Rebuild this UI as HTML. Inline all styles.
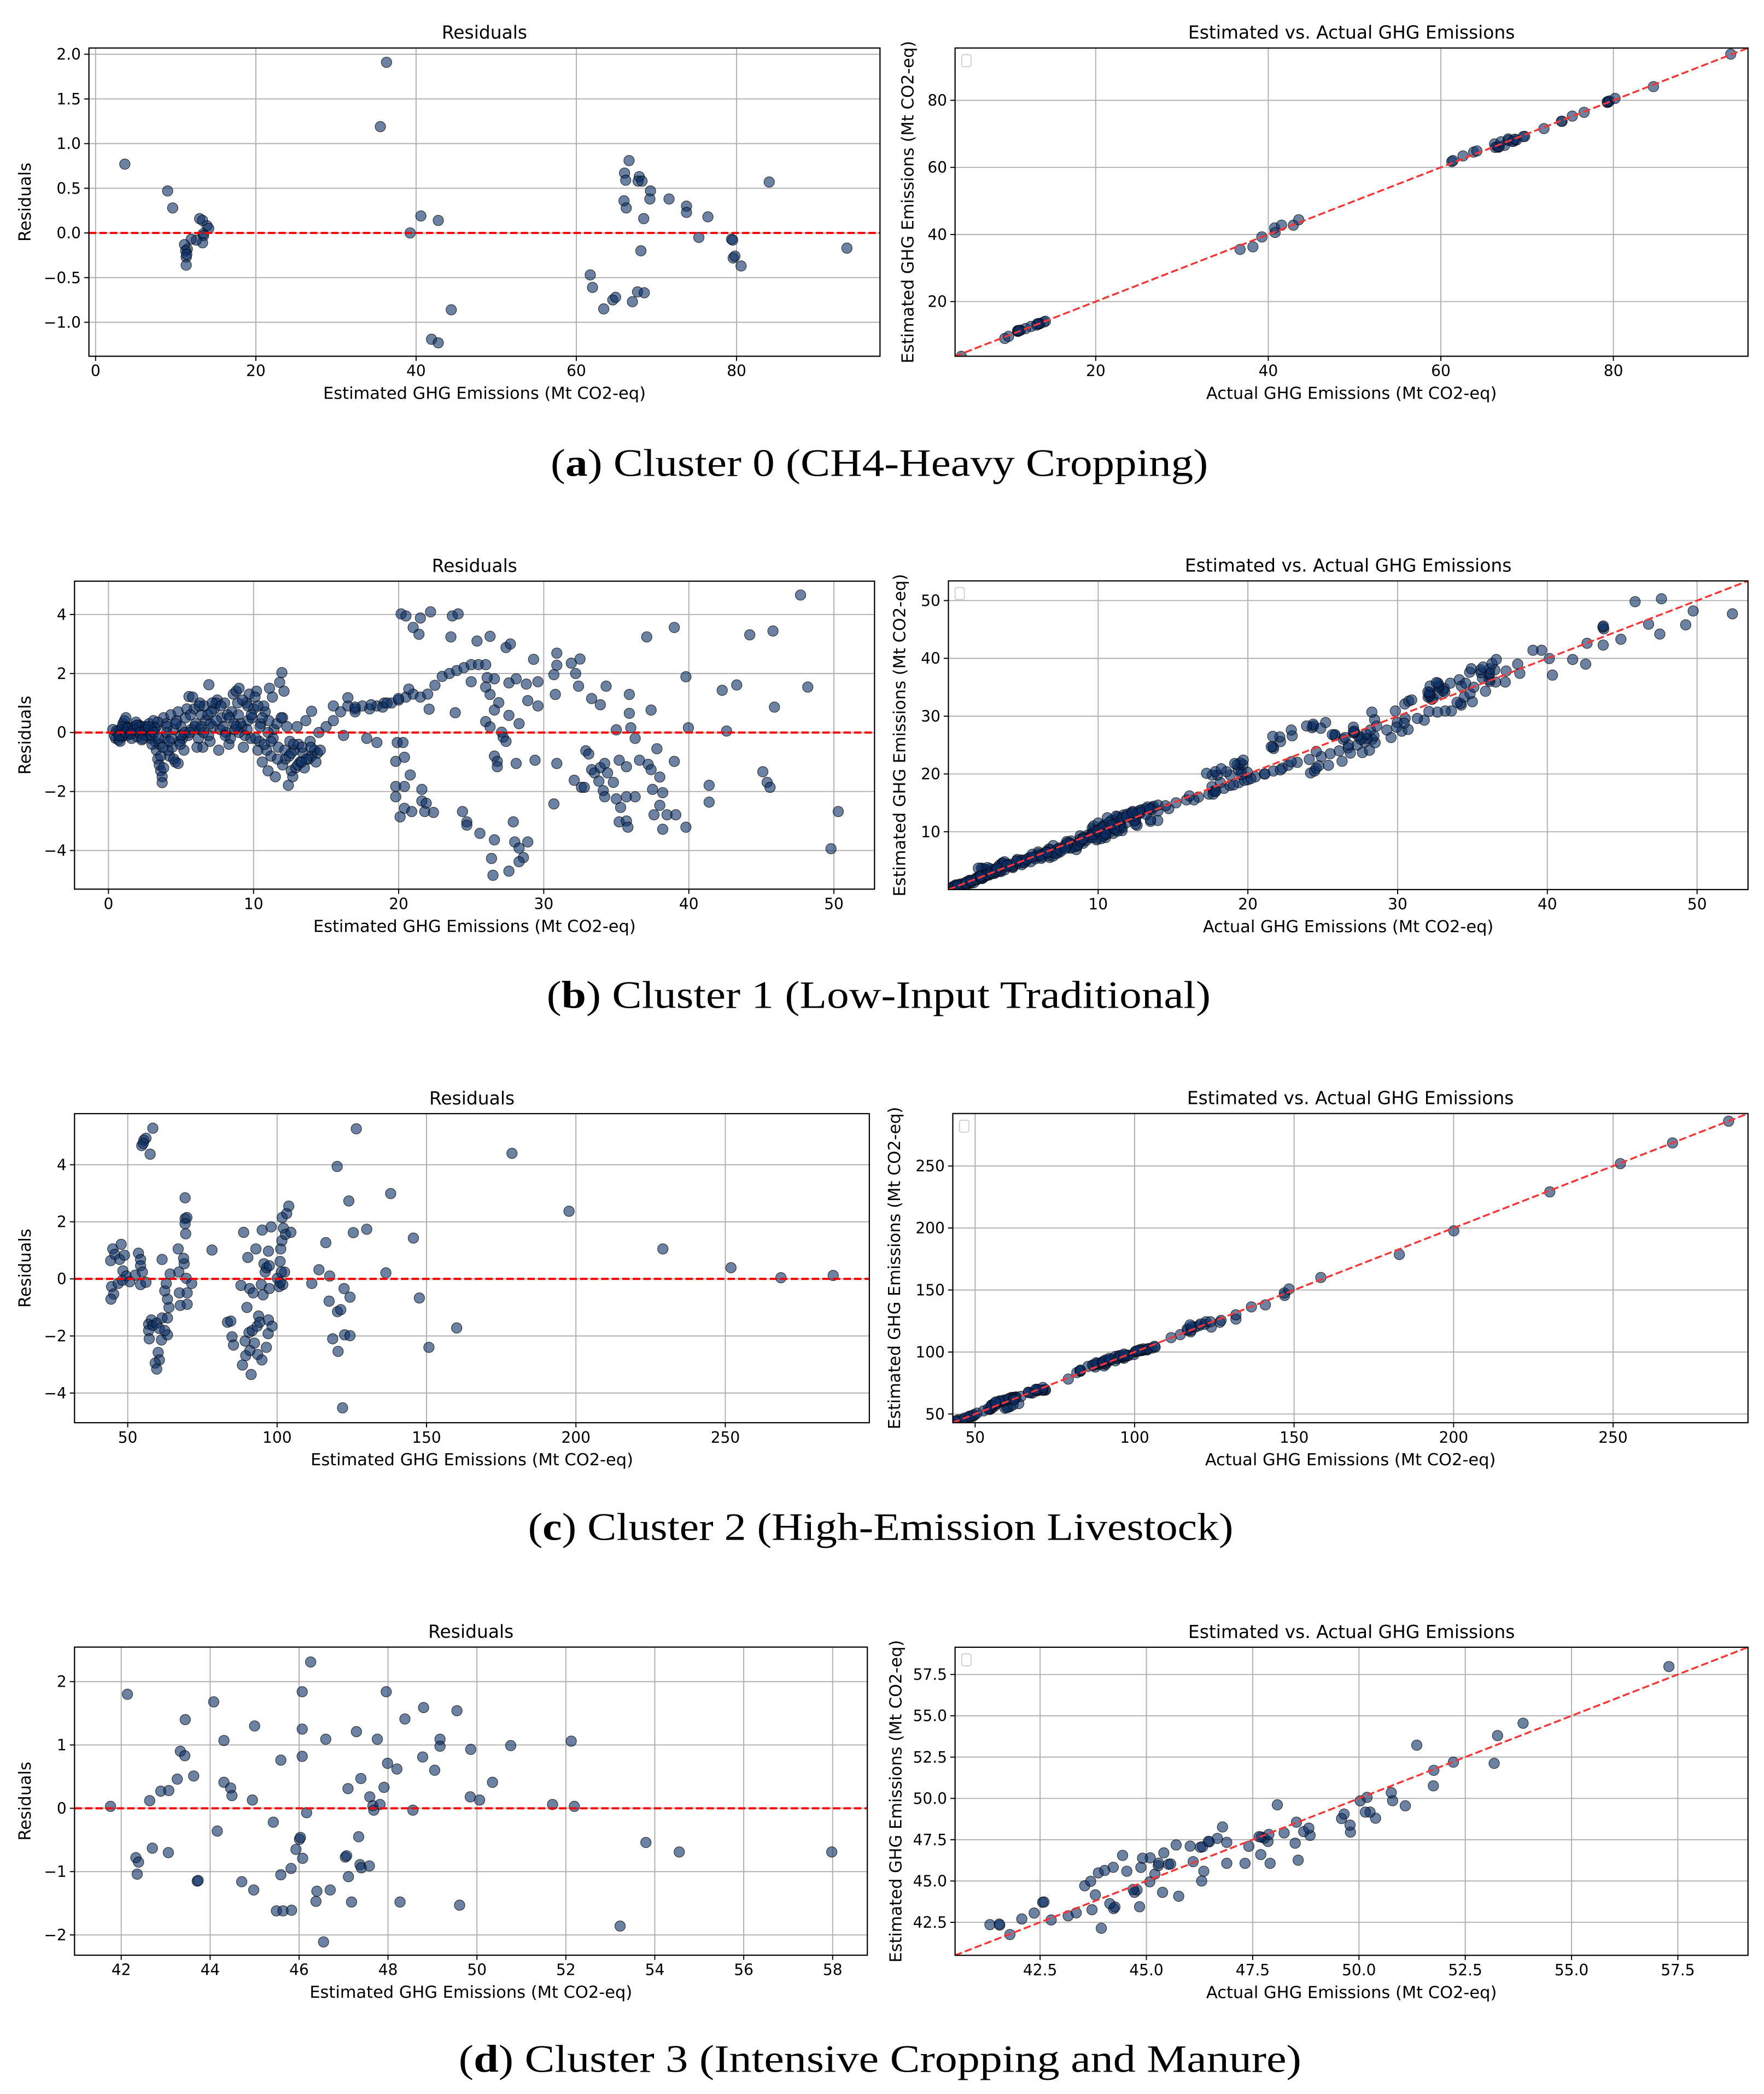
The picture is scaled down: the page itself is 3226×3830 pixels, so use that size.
<!DOCTYPE html>
<html><head><meta charset="utf-8"><title>Cluster residuals and estimated vs actual GHG emissions</title>
<style>
html,body{margin:0;padding:0;background:#fff;}
svg{display:block;}
text{font-family:"DejaVu Sans","Liberation Sans",sans-serif;fill:#000;}
.cap{font-family:"Liberation Serif","DejaVu Serif",serif;}
</style></head>
<body>
<svg id="fig" xmlns="http://www.w3.org/2000/svg" width="3226" height="3830" viewBox="0 0 1323 1570.6" preserveAspectRatio="none">
<rect x="0" y="0" width="1323" height="1570.6" fill="#fff"/>
<text class="cap" x="413" y="357" font-size="29" textLength="493" lengthAdjust="spacingAndGlyphs">(<tspan font-weight="bold">a</tspan>) Cluster 0 (CH4-Heavy Cropping)</text>
<text class="cap" x="410" y="756" font-size="29" textLength="498" lengthAdjust="spacingAndGlyphs">(<tspan font-weight="bold">b</tspan>) Cluster 1 (Low-Input Traditional)</text>
<text class="cap" x="396" y="1155" font-size="29" textLength="529" lengthAdjust="spacingAndGlyphs">(<tspan font-weight="bold">c</tspan>) Cluster 2 (High-Emission Livestock)</text>
<text class="cap" x="344" y="1554" font-size="29" textLength="632" lengthAdjust="spacingAndGlyphs">(<tspan font-weight="bold">d</tspan>) Cluster 3 (Intensive Cropping and Manure)</text>
</svg>
<script>
// ---- Cluster 0 data (estimated, residual) ----
const aEst=[3.65,8.99,9.62,12.99,13.35,13.91,14.12,13.42,13.48,13.35,12.57,11.94,11.45,11.10,11.24,11.31,11.31,11.38,35.54,36.31,39.26,40.60,42.77,41.93,42.77,44.39,61.74,62.02,63.42,64.55,64.90,66.58,66.02,66.16,65.95,66.23,67.00,67.64,68.48,68.06,67.85,67.71,68.20,68.41,69.25,69.18,71.57,73.75,73.75,75.29,76.42,79.37,79.51,79.58,79.79,80.56,84.07,93.77];
const aRes=[0.77,0.47,0.28,0.16,0.14,0.08,0.05,-0.01,-0.03,-0.11,-0.08,-0.07,-0.18,-0.13,-0.20,-0.27,-0.36,-0.24,1.19,1.91,0.00,0.19,0.14,-1.19,-1.23,-0.86,-0.47,-0.61,-0.85,-0.75,-0.72,0.81,0.67,0.59,0.36,0.28,-0.77,-0.66,-0.67,-0.20,0.63,0.58,0.58,0.16,0.47,0.38,0.38,0.30,0.23,-0.05,0.18,-0.07,-0.08,-0.28,-0.26,-0.37,0.57,-0.17];
// ---- Cluster 1 data ----
const bEst=[0.5,0.6,0.7,0.8,0.9,1.0,1.1,1.2,1.3,1.4,1.5,1.6,1.7,1.8,2.0,2.1,2.2,2.4,2.5,2.6,2.8,2.9,3.0,3.1,3.2,3.3,3.3,3.4,3.5,3.6,3.7,3.7,3.5,3.8,3.9,4.0,4.2,4.3,4.4,4.5,4.6,4.7,4.9,5.0,5.2,5.3,5.5,5.55,5.8,5.9,6.0,6.2,6.3,6.4,6.5,6.6,6.92,7.0,7.2,7.3,7.5,7.6,7.8,8.0,8.1,8.3,8.5,8.6,8.8,9.0,9.2,9.3,9.5,9.6,9.8,10.0,10.2,10.3,10.5,10.6,10.8,11.0,11.1,11.2,11.4,11.5,11.7,11.8,11.95,12.0,12.1,12.2,12.4,12.5,12.6,12.8,12.9,13.0,13.2,13.4,13.6,13.8,14.0,14.2,14.4,
0.3,0.4,0.8,1.0,1.2,1.9,2.3,2.7,3.0,3.4,4.1,4.8,5.1,5.4,5.7,6.1,6.7,6.9,7.4,7.7,8.2,8.4,8.9,9.1,9.4,9.7,9.9,10.1,10.4,10.7,10.9,11.3,11.6,12.3,12.7,13.1,13.5,13.9,14.3,14.6,11.0,9.0,7.0,5.0,4.0,2.0,3.6,3.8,4.5,4.8,1.3,1.6,2.2,2.6,3.2,6.3,7.9,8.7,10.3,12.0,
0.55,0.75,0.95,1.15,1.35,1.55,1.75,1.95,2.15,2.35,2.55,2.75,2.95,3.15,3.45,3.75,4.05,4.35,4.65,4.95,5.25,5.65,5.95,6.25,6.55,6.85,7.15,7.45,7.75,8.05,8.35,8.65,8.95,9.25,9.55,9.85,10.15,10.45,10.75,11.05,11.35,11.65,11.9,12.15,12.45,12.75,13.05,13.35,13.65,13.95,4.2,5.6,6.4,7.1,8.8,9.6,10.6,11.2,12.6,13.3,
14.0,14.5,15.0,15.5,16.0,16.5,17.0,17.5,18.0,18.5,19.0,19.5,20.0,20.5,21.0,21.5,22.0,22.5,23.0,23.5,24.0,24.5,25.0,25.5,26.0,15.5,17.0,17.8,18.5,16.2,16.5,17.0,18.1,18.9,19.2,19.99,
20.17,20.5,21.5,22.2,23.7,24.1,21.0,21.4,23.6,25.4,26.3,27.4,27.7,29.3,30.9,30.9,32.5,31.9,30.7,32.2,32.4,34.3,35.9,33.3,33.9,30.8,29.6,28.9,29.6,28.8,28.1,27.6,26.6,26.1,26.3,26.0,25.0,23.9,22.1,20.7,26.9,26.6,27.6,28.3,26.0,26.3,37.1,39.0,39.8,35.9,37.4,35.0,36.0,36.3,37.8,39.97,42.6,42.3,43.3,44.2,45.8,45.9,47.7,48.2,
19.9,20.3,19.8,20.4,20.8,19.8,20.4,19.8,21.6,21.6,21.9,20.4,20.9,21.8,22.4,20.1,24.4,24.7,24.7,25.6,26.6,26.4,26.5,27.6,28.0,28.3,28.6,28.3,28.9,27.9,26.6,26.8,26.8,28.1,29.4,27.1,27.2,27.4,30.9,32.9,33.1,33.3,33.5,33.9,34.2,34.4,32.1,32.6,32.8,33.8,34.8,34.1,34.2,35.0,35.3,35.7,35.2,35.7,35.8,36.3,35.2,35.7,36.6,37.2,37.4,37.5,38.0,38.0,37.6,38.2,38.5,39.1,38.2,39.0,39.8,41.4,41.4,45.1,45.4,45.6,49.8,50.3,30.7];
const bRes=[-0.2,0.0,-0.25,0.1,-0.15,0.3,0.4,0.2,-0.1,0.1,0.0,-0.2,0.2,0.1,-0.15,0.25,0.05,-0.1,0.2,0.0,0.3,-0.2,0.1,0.4,-0.3,0.2,-0.6,-0.9,-1.1,-1.3,-1.5,-1.7,-0.4,0.5,-0.2,0.3,-0.8,0.6,-0.5,0.1,-1.0,0.4,-0.3,0.2,-0.6,0.5,-0.1,1.22,1.2,0.8,0.3,-0.2,1.0,0.6,-0.5,0.9,1.62,-0.3,0.2,0.8,1.1,-0.6,0.5,1.0,0.0,-0.4,0.7,1.3,1.4,1.5,0.2,-0.5,1.0,0.4,-0.2,0.8,1.4,-0.6,0.3,-1.0,0.7,-1.3,1.5,-0.8,0.1,-1.5,-0.5,1.7,2.03,-1.1,1.4,-0.9,-1.79,-0.3,-1.3,-0.6,-1.2,0.2,-1.0,-0.7,0.4,-0.9,-0.8,-0.6,-0.7,
0.1,-0.1,-0.3,-0.1,0.5,0.35,-0.25,0.1,-0.4,0.35,-0.6,0.7,-0.2,0.8,0.1,-0.5,0.4,-0.1,1.0,0.1,0.6,-0.2,1.0,0.3,-0.1,1.3,0.5,1.2,-0.3,0.9,-0.6,1.2,0.3,0.2,-1.5,-0.4,-1.2,-0.3,-1.0,-0.6,0.0,0.0,0.3,-0.1,0.0,0.1,-0.8,-1.2,-0.9,-1.05,0.15,0.05,0.2,-0.1,0.15,0.1,0.2,0.1,0.9,0.5,
0.05,-0.1,0.2,0.0,0.15,-0.05,0.1,0.25,0.0,-0.2,0.1,0.2,-0.1,0.0,-0.2,-0.5,0.2,-0.2,0.3,-0.4,0.0,0.6,0.2,0.9,0.0,0.6,1.0,0.4,0.9,-0.1,0.5,0.3,0.6,1.1,0.1,0.6,-0.2,0.2,-0.4,0.4,-0.2,-0.9,0.5,-0.6,-0.8,-0.4,-1.1,-0.5,-0.9,-0.5,-0.3,0.0,0.2,0.7,0.2,0.9,0.5,-0.3,-0.7,-1.0,
0.72,0.0,0.2,0.4,0.7,0.9,0.8,0.9,0.8,0.9,1.0,1.0,1.1,1.2,1.3,1.2,1.3,1.6,1.9,2.0,2.1,2.2,2.3,2.3,2.3,0.9,0.7,-0.2,-0.34,-0.1,1.18,0.86,0.94,0.86,1.0,1.15,
4.02,3.95,3.88,4.09,3.95,4.02,3.56,3.33,3.24,3.10,3.26,2.88,3.0,2.48,2.69,2.28,2.49,2.35,1.96,2.0,1.57,1.57,1.29,1.15,0.94,1.29,1.72,1.08,0.9,1.64,1.82,1.68,1.82,1.86,1.29,1.54,1.72,0.67,0.79,1.47,1.01,0.76,0.58,0.30,0.37,0.19,3.24,3.56,1.89,0.65,0.76,0.09,0.16,-0.2,-0.55,0.16,0.05,1.43,1.61,3.31,3.44,0.86,4.66,1.54,
-0.34,-0.34,-0.98,-0.84,-1.44,-1.83,-1.83,-2.18,-1.93,-2.32,-2.4,-2.57,-2.68,-2.68,-2.71,-2.86,-2.68,-3.03,-3.14,-3.42,-3.64,-4.27,-4.84,-4.70,-3.71,-3.92,-4.24,-4.38,-3.71,-3.03,-0.8,-0.98,-1.16,-1.05,-0.94,0.01,-0.16,-0.3,-1.05,-0.62,-0.73,-1.26,-1.37,-1.19,-1.05,-1.37,-1.62,-1.86,-1.86,-1.65,-1.69,-1.97,-2.18,-2.25,-2.54,-2.18,-3.03,-3.0,-3.21,-2.18,-0.94,-1.16,-0.94,-1.08,-1.26,-1.93,-1.51,-2.47,-2.79,-2.04,-2.79,-2.79,-3.28,-0.98,-3.21,-1.79,-2.36,-1.33,-1.69,-1.86,-3.94,-2.68,-2.42];
// ---- Cluster 2 data ----
const cEst=[44.3,45.0,45.7,47.8,47.3,48.9,48.4,44.6,45.3,44.4,46.8,48.2,49.5,50.7,52.5,53.6,54.3,54.3,54.9,54.3,56.1,54.7,55.4,56.1,55.2,58.4,57.5,57.0,57.9,57.0,58.4,59.7,60.6,61.5,57.2,61.3,63.3,60.2,60.6,59.2,59.7,62.4,63.3,63.8,63.3,62.4,62.9,64.2,61.5,66.9,67.1,67.6,67.3,68.9,68.7,69.2,69.2,69.8,69.2,69.4,69.6,69.9,69.9,71.4,78.2,
83.4,84.5,84.9,85.4,87.9,88.4,88.8,89.3,89.5,89.9,90.2,90.6,90.8,90.9,91.3,91.7,92.0,92.4,92.9,93.3,93.5,93.8,94.2,94.7,94.9,95.0,95.3,95.6,96.0,96.4,96.5,97.0,97.1,97.1,97.4,97.4,98.0,98.3,100.1,100.7,101.0,101.2,101.6,101.7,102.1,102.5,102.8,103.2,103.9,104.6,101.4,101.9,101.0,
111.6,114.0,116.3,117.4,117.6,118.6,120.1,120.2,120.4,121.3,121.9,122.4,122.6,124.0,124.4,124.4,125.5,126.5,130.0,136.4,138.0,145.6,147.6,150.8,160.1,178.6,197.7,229.1,251.9,268.6,286.1];
const cRes=[0.64,1.05,0.86,1.21,0.68,0.83,0.28,-0.27,-0.53,-0.71,-0.16,-0.05,0.10,-0.10,0.13,0.90,0.68,0.46,0.24,-0.20,-0.12,4.67,4.86,4.93,4.75,5.28,4.37,-1.59,-1.44,-1.81,-1.63,-1.55,-1.74,-1.37,-2.10,-2.14,-1.96,-2.58,-2.84,-2.95,-3.16,-1.81,-1.37,-1.00,-0.71,-0.42,-0.16,0.17,0.68,1.05,0.24,-0.93,-0.49,0.53,0.72,2.84,2.11,2.15,1.93,1.58,0.02,-0.49,-0.89,-0.16,1.01,
-1.52,-1.48,-2.03,-2.32,-0.23,-3.02,1.63,-2.18,-2.69,-1.00,0.75,-1.88,-0.34,-2.51,-3.35,-1.81,-0.49,-2.25,1.05,-1.66,-2.65,-1.30,-1.52,-0.20,-2.84,1.71,-0.56,0.53,0.24,-2.40,0.39,-1.92,0.97,-1.44,0.46,-0.34,1.82,-1.66,0.02,-0.27,0.61,1.05,1.34,2.15,1.78,0.24,1.56,2.29,2.55,1.63,0.24,-0.20,-0.12,
-0.16,0.32,1.27,-0.78,0.10,-2.10,3.94,-1.15,-2.54,-1.08,-4.52,-0.34,-1.96,2.73,-1.99,-0.64,1.62,5.26,1.74,0.21,2.99,1.43,-0.67,-2.40,-1.72,4.40,2.37,1.05,0.39,0.04,0.12];
// ---- Cluster 3 data ----
const dEst=[41.76,42.14,42.33,42.39,42.36,42.64,42.70,42.89,43.06,43.07,43.26,43.33,43.44,43.43,43.63,43.71,43.73,44.08,44.16,44.31,44.31,44.46,44.49,44.71,44.95,45.00,44.98,45.42,45.49,45.59,45.59,45.64,45.82,45.83,45.93,46.01,46.03,46.07,46.07,46.07,46.08,46.17,46.26,46.40,46.38,46.55,46.60,46.70,47.04,47.07,47.10,47.11,47.18,47.29,47.34,47.39,47.37,47.40,47.58,47.59,47.66,47.68,47.76,47.82,47.91,47.96,47.99,48.20,48.27,48.38,48.56,48.78,48.80,49.05,49.17,49.17,49.55,49.61,49.85,49.86,50.06,50.35,50.76,51.70,52.12,52.19,53.22,53.80,54.55,57.98];
const dRes=[0.03,1.80,-0.78,-0.85,-1.04,0.12,-0.63,0.27,-0.70,0.28,0.46,0.90,1.40,0.83,0.51,-1.15,-1.14,1.68,-0.36,1.07,0.41,0.32,0.20,-1.16,0.13,1.30,-1.29,-0.22,-1.62,0.76,-1.05,-1.62,-0.95,-1.61,-0.65,-0.49,-0.46,1.84,1.25,0.82,-0.79,-0.07,2.31,-1.31,-1.47,-2.11,1.09,-1.29,-0.77,-0.75,0.31,-1.08,-1.48,1.21,-0.45,0.47,-0.89,-0.94,-0.91,0.18,0.04,-0.03,1.09,0.06,0.33,1.84,0.71,0.62,-1.48,1.41,-0.03,0.81,1.59,0.60,1.09,0.98,1.54,-1.53,0.18,0.93,0.13,0.41,0.99,0.06,1.06,0.03,-1.86,-0.54,-0.69,-0.69];
// ---- tick labels ----
const aResXTicks=[0,20,40,60,80];
const aResYTicks=[-1.0,-0.5,0.0,0.5,1.0,1.5,2.0];
const aCmpTicks=[20,40,60,80];
const bResXTicks=[0,10,20,30,40,50];
const bResYTicks=[-4,-2,0,2,4];
const bCmpTicks=[10,20,30,40,50];
const cResXTicks=[50,100,150,200,250];
const cResYTicks=[-4,-2,0,2,4];
const cCmpTicks=[50,100,150,200,250];
const dResXTicks=[42,44,46,48,50,52,54,56,58];
const dResYTicks=[-2,-1,0,1,2];
const dCmpTicks=[42.5,45.0,47.5,50.0,52.5,55.0,57.5];

const NS='http://www.w3.org/2000/svg';
const svg=document.getElementById('fig');
let clipN=0;
function mk(tag,attrs,parent){const e=document.createElementNS(NS,tag);for(const k in attrs)e.setAttribute(k,attrs[k]);(parent||svg).appendChild(e);return e;}
function fmt(v,dec){let s=v.toFixed(dec);if(v<0)s='\u2212'+s.slice(1);return s;}

function panel(p){
  const g=mk('g',{});
  
  
  const X=v=>p.x0+(v-p.xr[0])/(p.xr[1]-p.xr[0])*(p.x1-p.x0);
  const Y=v=>p.y1-(v-p.yr[0])/(p.yr[1]-p.yr[0])*(p.y1-p.y0);
  const cid='clip'+(clipN++);
  const cp=mk('clipPath',{id:cid},g);
  mk('rect',{x:p.x0,y:p.y0,width:p.x1-p.x0,height:p.y1-p.y0},cp);
  const grid=mk('g',{stroke:'#b0b0b0','stroke-width':0.8},g);
  
  
  p.xt.forEach(t=>{const x=X(t);mk('line',{x1:x,x2:x,y1:p.y0,y2:p.y1},grid);});
  p.yt.forEach(t=>{const y=Y(t);mk('line',{x1:p.x0,x2:p.x1,y1:y,y2:y},grid);});
  p.xt.forEach(t=>{const x=X(t);mk('line',{x1:x,x2:x,y1:p.y1,y2:p.y1+3.5,stroke:'#000','stroke-width':0.8},g);
    const tx=mk('text',{x:x,y:p.y1+15,'font-size':11.5,'text-anchor':'middle'},g);tx.textContent=fmt(t,p.xdec);
    
    });
  p.yt.forEach(t=>{const y=Y(t);mk('line',{x1:p.x0-3.5,x2:p.x0,y1:y,y2:y,stroke:'#000','stroke-width':0.8},g);
    const tx=mk('text',{x:p.x0-6,y:y+4.1,'font-size':11.5,'text-anchor':'end'},g);tx.textContent=fmt(t,p.ydec);
    
    });
  const pts=mk('g',{'clip-path':'url(#'+cid+')'},g);
  
  
  for(let i=0;i<p.px.length;i++){
    const c=mk('ellipse',{cx:X(p.px[i]),cy:Y(p.py[i]),rx:3.9,ry:3.9,fill:'#0a2f66','fill-opacity':0.6,stroke:'#000','stroke-opacity':0.7,'stroke-width':0.5},pts);
    
    
  }
  let ref;
  if(p.type==='res'){
    ref=mk('line',{x1:p.x0,x2:p.x1,y1:Y(0),y2:Y(0),stroke:'#ff0000','stroke-width':1.6,'stroke-dasharray':'5.5,2.4'},g);
  } else {
    const lo=Math.max(p.xr[0],p.yr[0]),hi=Math.min(p.xr[1],p.yr[1]);
    ref=mk('line',{x1:X(lo),y1:Y(lo),x2:X(hi),y2:Y(hi),stroke:'#ff3333','stroke-width':1.4,'stroke-dasharray':'5.5,2.4','clip-path':'url(#'+cid+')'},g);
    const leg=mk('rect',{x:p.x0+5,y:p.y0+5,width:7,height:9,rx:1.5,fill:'#fff',stroke:'#d0d0d0','stroke-width':0.8},g);
    
    
  }
  
  
  const fr=mk('rect',{x:p.x0,y:p.y0,width:p.x1-p.x0,height:p.y1-p.y0,fill:'none',stroke:'#000','stroke-width':0.9},g);
  
  
  const cx=(p.x0+p.x1)/2, cy=(p.y0+p.y1)/2;
  const ti=mk('text',{x:cx,y:p.y0-7,'font-size':13.5,'text-anchor':'middle'},g);ti.textContent=p.title;
  
  
  const xl=mk('text',{x:cx,y:p.y1+32,'font-size':12.5,'text-anchor':'middle'},g);xl.textContent=p.xlabel;
  
  
  const yl=mk('text',{x:0,y:0,'font-size':12.5,'text-anchor':'middle',transform:'translate('+p.ylx+','+cy+') rotate(-90)'},g);yl.textContent=p.ylabel;
  
  
}

function addRow(name,est,res,resCfg,cmpCfg){
  const actual=est.map((e,i)=>e+res[i]);
  panel(Object.assign({name:name+'-residuals',type:'res',px:est,py:res,title:'Residuals',xlabel:'Estimated GHG Emissions (Mt CO2-eq)',ylabel:'Residuals',ylx:23},resCfg));
  panel(Object.assign({name:name+'-estimated-vs-actual',type:'cmp',px:actual,py:est,title:'Estimated vs. Actual GHG Emissions',xlabel:'Actual GHG Emissions (Mt CO2-eq)',ylabel:'Estimated GHG Emissions (Mt CO2-eq)'},cmpCfg));
}

addRow('cluster-0',aEst,aRes,
 {x0:66.7,x1:660,y0:36,y1:267.2,xr:[-0.83,97.9],yr:[-1.38,2.07],xt:aResXTicks,yt:aResYTicks,xdec:0,ydec:1},
 {x0:716.3,x1:1311,y0:36,y1:267.2,xr:[3.7,95.6],yr:[3.7,95.6],xt:aCmpTicks,yt:aCmpTicks,xdec:0,ydec:0,ylx:685});
addRow('cluster-1',bEst,bRes,
 {x0:55.9,x1:655.9,y0:435.9,y1:666.9,xr:[-2.34,52.8],yr:[-5.31,5.13],xt:bResXTicks,yt:bResYTicks,xdec:0,ydec:0},
 {x0:711.3,x1:1311,y0:435.7,y1:667.2,xr:[0,53.4],yr:[0,53.4],xt:bCmpTicks,yt:bCmpTicks,xdec:0,ydec:0,ylx:679});
addRow('cluster-2',cEst,cRes,
 {x0:55.9,x1:652,y0:835.3,y1:1067.1,xr:[32.2,298.2],yr:[-5.04,5.79],xt:cResXTicks,yt:cResYTicks,xdec:0,ydec:0},
 {x0:714.6,x1:1311,y0:835.2,y1:1067.1,xr:[43,292.3],yr:[43,292.3],xt:cCmpTicks,yt:cCmpTicks,xdec:0,ydec:0,ylx:675});
addRow('cluster-3',dEst,dRes,
 {x0:55.9,x1:650.5,y0:1235.4,y1:1466.5,xr:[40.95,58.78],yr:[-2.32,2.545],xt:dResXTicks,yt:dResYTicks,xdec:0,ydec:0},
 {x0:716.3,x1:1311,y0:1235.5,y1:1466.6,xr:[40.5,59.15],yr:[40.5,59.15],xt:dCmpTicks,yt:dCmpTicks,xdec:1,ydec:1,ylx:676});
</script>
</body></html>
